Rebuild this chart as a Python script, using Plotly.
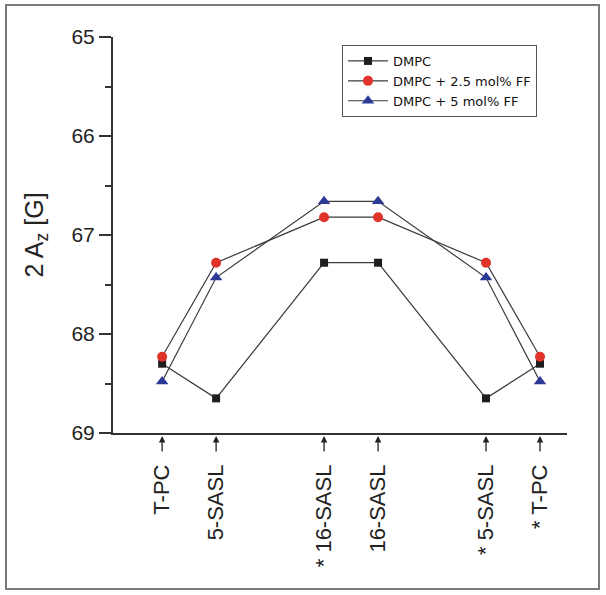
import plotly.graph_objects as go

# ---- data ----
positions = [1, 2, 4, 5, 7, 8]
tick_labels = ["T-PC", "5-SASL", "* 16-SASL", "16-SASL", "* 5-SASL", "* T-PC"]
dmpc = [68.30, 68.65, 67.28, 67.28, 68.65, 68.30]
dmpc_25ff = [68.23, 67.28, 66.82, 66.82, 67.28, 68.23]
dmpc_5ff = [68.48, 67.43, 66.66, 66.66, 67.43, 68.48]
series_names = ["DMPC", "DMPC + 2.5 mol% FF", "DMPC + 5 mol% FF"]
y_ticks = [65, 66, 67, 68, 69]

W, H = 606, 595
L, R, T, B = 113, 39, 37, 162
pw, ph = W - L - R, H - T - B

fig = go.Figure()
line_col = "#3a3a3a"
fig.add_trace(go.Scatter(x=positions, y=dmpc, name=series_names[0], mode="lines+markers",
                         line=dict(color=line_col, width=1.2),
                         marker=dict(symbol="square", size=8, color="#1e1e1e")))
fig.add_trace(go.Scatter(x=positions, y=dmpc_25ff, name=series_names[1], mode="lines+markers",
                         line=dict(color=line_col, width=1.2),
                         marker=dict(symbol="circle", size=10, color="#e0342a")))
fig.add_trace(go.Scatter(x=positions, y=dmpc_5ff, name=series_names[2], mode="lines+markers",
                         line=dict(color=line_col, width=1.2),
                         marker=dict(symbol="triangle-up", size=11, color="#2c3a96")))

# arrows under x axis
for xv in positions:
    fig.add_annotation(x=xv, y=-3 / ph, xref="x", yref="paper", text="", showarrow=True,
                       ax=0, ay=17, arrowhead=2, arrowsize=1, arrowwidth=1.3,
                       arrowcolor="#222")

# outer frame
fig.add_shape(type="rect", xref="paper", yref="paper",
              x0=(6 - L) / pw, x1=(599 - L) / pw,
              y0=(H - B - 589) / ph, y1=(H - B - 5) / ph,
              line=dict(color="#7a7a7a", width=2), fillcolor="rgba(0,0,0,0)", layer="below")

fig.update_layout(
    width=W, height=H,
    margin=dict(l=L, r=R, t=T, b=B, autoexpand=False),
    paper_bgcolor="white", plot_bgcolor="white",
    font=dict(family="Liberation Sans, Arial, sans-serif", color="#222"),
    showlegend=True,
    legend=dict(x=(342 - L) / pw, y=(H - B - 45) / ph, xanchor="left", yanchor="top",
                bordercolor="#555", borderwidth=1, bgcolor="white",
                font=dict(family="DejaVu Sans, sans-serif", size=13, color="#111"),
                tracegroupgap=0, itemwidth=40),
    xaxis=dict(range=[0.09, 8.5], showgrid=False, zeroline=False,
               showline=True, linecolor="#333", linewidth=1.5,
               tickmode="array", tickvals=positions, ticktext=tick_labels,
               tickangle=-90, ticks="outside", ticklen=21, tickcolor="rgba(0,0,0,0)",
               tickfont=dict(size=22, color="#222")),
    yaxis=dict(range=[69, 65], showgrid=False, zeroline=False,
               showline=True, linecolor="#333", linewidth=2,
               tickmode="array", tickvals=y_ticks, ticks="outside", ticklen=12, tickwidth=2,
               tickcolor="#333", tickfont=dict(size=21, color="#222"),
               minor=dict(dtick=0.5, ticks="outside", ticklen=6, tickwidth=1.5, tickcolor="#333"),
               title=dict(text="2 A<sub>z</sub> [G]", font=dict(size=25, color="#222"), standoff=21)),
)

fig.write_html("out.html", config={"displayModeBar": False},
               post_script="document.body.style.margin='0';")
